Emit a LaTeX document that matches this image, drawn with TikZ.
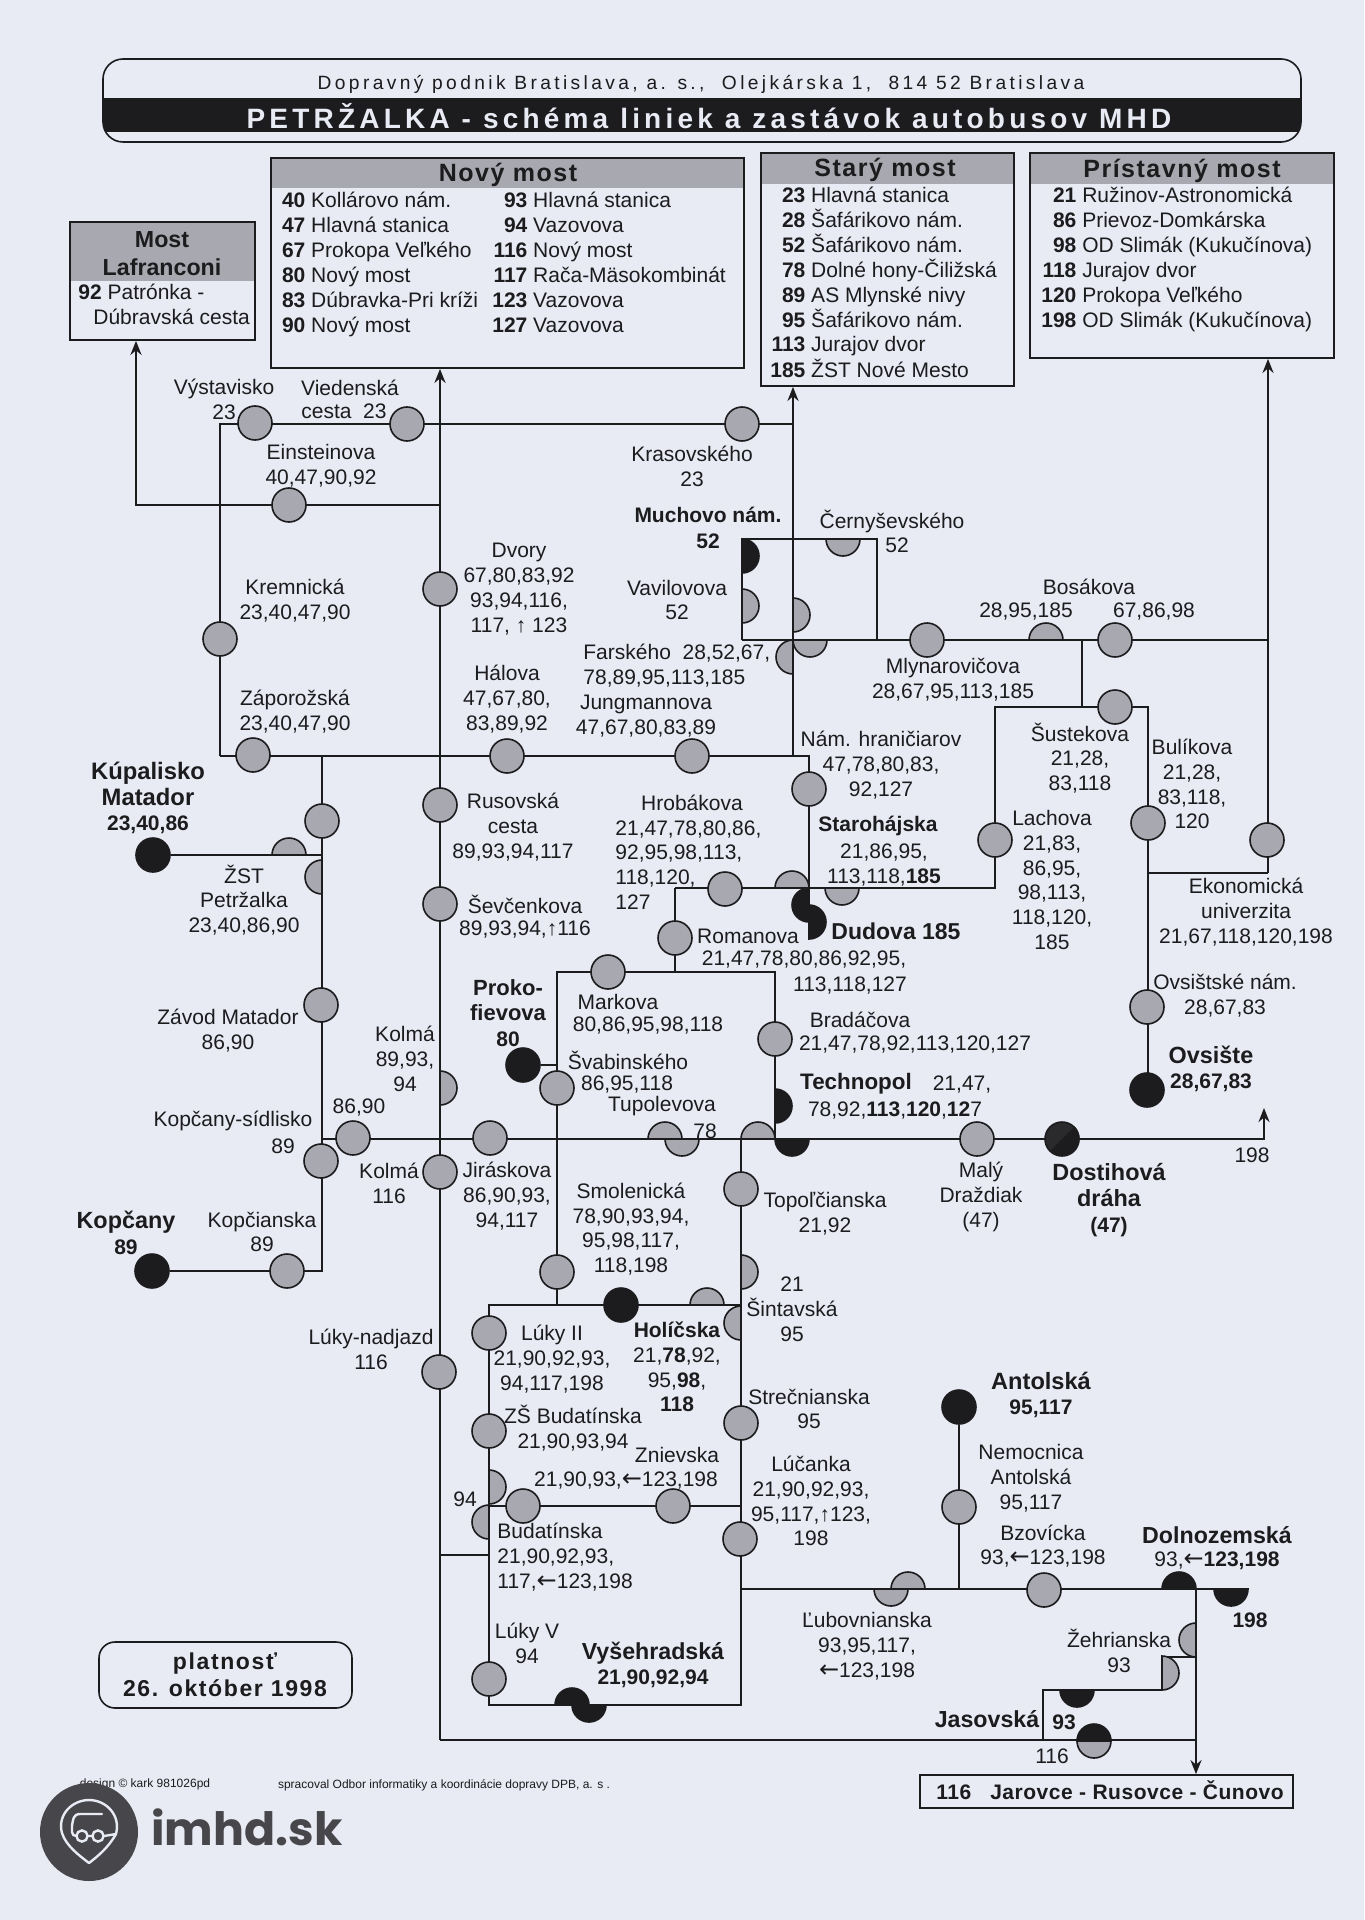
\documentclass[tikz,border=0pt]{standalone}
\usepackage{fontspec}
\setmainfont{Liberation Sans}
\newfontfamily\arrf{DejaVu Sans}
\newfontfamily\popf{Poppins}
\usetikzlibrary{arrows.meta,fit,calc}
\pgfdeclarelayer{paper}\pgfdeclarelayer{lines}
\pgfsetlayers{paper,lines,main}
\definecolor{paperc}{HTML}{E8EAF4}
\definecolor{ink}{HTML}{1C1C1E}
\definecolor{dotg}{HTML}{A8A9B0}
\definecolor{logoc}{HTML}{47474B}
\tikzset{
 ln/.style={draw=ink,line width=1.4pt,line join=miter},
 arr/.style={ln,-{Stealth[length=7pt,width=5.5pt]}},
 stn/.style={circle,draw=ink,line width=.8pt,fill=dotg,minimum size=17pt,inner sep=0pt},
 stb/.style={stn,fill=ink},
 lab/.style={align=center,inner sep=0pt,text=ink,font=\fontsize{10.5}{12.4}\selectfont},
 labl/.style={lab,align=left},
 blab/.style={lab,font=\fontsize{10.5}{12.8}\selectfont\bfseries},
 head/.style={lab,font=\fontsize{12.5}{14}\selectfont\bfseries\addfontfeature{LetterSpace=6}},
 headb/.style={lab,font=\fontsize{11.6}{14}\selectfont\bfseries},
 rowl/.style={lab,anchor=west,text height=7.6pt,text depth=2.4pt},
 frame/.style={draw=ink,line width=.9pt,inner sep=0pt},
 tiny/.style={inner sep=0pt,text=ink,font=\fontsize{6}{7}\selectfont}
}
\newcounter{lbl}
\newcommand{\tx}[4][lab]{\stepcounter{lbl}\node[#1] (t\thelbl) at (#2,#3) {#4};}
\newcommand{\stg}[3]{\node[stn] (#1) at (#2,#3) {};}
\newcommand{\stk}[3]{\node[stb] (#1) at (#2,#3) {};}
\newcommand{\hst}[5]{\coordinate (#1) at (#2,#3);
 \draw[draw=ink,line width=.8pt,fill=#5] (#1) ++(#4:8.5pt) arc[start angle=#4,delta angle=180,radius=8.5pt] -- cycle;}
\newcommand{\bxx}[6]{\fill[dotg] (#2,#3) rectangle (#4,#6);
 \node[frame,fit={(#2,#3)(#4,#5)}] (#1) {};}
\newcommand{\rowsA}[4]{\tx[rowl]{#1}{#2}{\makebox[18pt][r]{\textbf{#3}} #4}}
\newcommand{\bn}[2][11.7]{{\fontsize{#1}{12.8}\selectfont #2}}
\newcommand{\lar}{{\arrf\fontsize{12}{12}\selectfont ←}}
\begin{document}
\begin{tikzpicture}[x=.5pt,y=-.5pt]
\useasboundingbox (0,0) rectangle (1364,1920);
\begin{pgfonlayer}{paper}
\fill[paperc] (0,0) rectangle (1364,1920);
\end{pgfonlayer}

% ---------- header
\begin{scope}
\clip[rounded corners=10pt] (103,59) rectangle (1301,142);
\fill[ink] (103,98) rectangle (1301,132);
\end{scope}
\node[draw=ink,line width=.8pt,rounded corners=10pt,fit={(103,59)(1301,142)},inner sep=0pt] (hdr) {};
\tx[lab,font=\fontsize{9.6}{12}\selectfont\addfontfeature{LetterSpace=17.6}]{701}{84}{Dopravný podnik Bratislava, a. s.,\ \ Olejkárska 1,\ \ 814 52 Bratislava}
\tx[lab,text=paperc,font=\fontsize{14}{16}\selectfont\bfseries\addfontfeature{LetterSpace=15}]{709}{116}{PETRŽALKA - schéma liniek a zastávok autobusov MHD}

% ---------- destination boxes
\bxx{nov}{271}{158}{744}{368}{188}
\bxx{sta}{761}{153}{1014}{386}{184}
\bxx{pri}{1030}{153}{1334}{358}{184}
\bxx{lafr}{70}{222}{255}{340}{281}
\tx[head]{508}{175}{Nový most}
\tx[head]{885}{170}{Starý most}
\tx[head]{1182}{171}{Prístavný most}
\tx[headb]{162}{254}{Most\\Lafranconi}
\tx[rowl]{78}{294}{\textbf{92} Patrónka -}
\tx[rowl]{93}{319}{Dúbravská cesta}
\rowsA{269}{202}{40}{Kollárovo nám.}
\rowsA{269}{227}{47}{Hlavná stanica}
\rowsA{269}{252}{67}{Prokopa Veľkého}
\rowsA{269}{277}{80}{Nový most}
\rowsA{269}{302}{83}{Dúbravka-Pri kríži}
\rowsA{269}{327}{90}{Nový most}
\rowsA{491}{202}{93}{Hlavná stanica}
\rowsA{491}{227}{94}{Vazovova}
\rowsA{491}{252}{116}{Nový most}
\rowsA{491}{277}{117}{Rača-Mäsokombinát}
\rowsA{491}{302}{123}{Vazovova}
\rowsA{491}{327}{127}{Vazovova}
\rowsA{769}{197}{23}{Hlavná stanica}
\rowsA{769}{222}{28}{Šafárikovo nám.}
\rowsA{769}{247}{52}{Šafárikovo nám.}
\rowsA{769}{272}{78}{Dolné hony-Čiližská}
\rowsA{769}{297}{89}{AS Mlynské nivy}
\rowsA{769}{322}{95}{Šafárikovo nám.}
\rowsA{769}{346}{113}{Jurajov dvor}
\rowsA{769}{372}{185}{ŽST Nové Mesto}
\rowsA{1040}{197}{21}{Ružinov-Astronomická}
\rowsA{1040}{222}{86}{Prievoz-Domkárska}
\rowsA{1040}{247}{98}{OD Slimák (Kukučínova)}
\rowsA{1040}{272}{118}{Jurajov dvor}
\rowsA{1040}{297}{120}{Prokopa Veľkého}
\rowsA{1040}{322}{198}{OD Slimák (Kukučínova)}

% ---------- junction points
\coordinate (jLaf) at (136,505);
\coordinate (jEin) at (440,505);
\coordinate (jTL) at (220,424);
\coordinate (jTR) at (793,424);
\coordinate (jBL) at (220,756);
\coordinate (jZap) at (322,756);
\coordinate (jMid) at (793,756);
\coordinate (jHr) at (809,756);
\coordinate (jHb) at (809,888);
\coordinate (jRom) at (675,888);
\coordinate (jLa) at (995,888);
\coordinate (jLt) at (995,707);
\coordinate (jBu) at (1148,707);
\coordinate (jOv) at (1148,1090);
\coordinate (jMa) at (675,972);
\coordinate (jPl) at (557,972);
\coordinate (jPr) at (775,972);
\coordinate (jPb) at (775,1139);
\coordinate (jSb) at (557,1305);
\coordinate (jSm) at (557,1065);
\coordinate (jMy) at (1082,640);
\coordinate (jSu) at (1082,707);
\coordinate (jQ1) at (742,539);
\coordinate (jQ2) at (877,539);
\coordinate (jQ3) at (877,640);
\coordinate (jQ4) at (742,640);
\coordinate (jPri) at (1268,640);
\coordinate (jEk) at (1268,873);
\coordinate (jEl) at (1148,873);
\coordinate (jKu) at (322,855);
\coordinate (jKb) at (322,1271);
\coordinate (jLh) at (322,1139);
\coordinate (jE198) at (1264,1139);
\coordinate (jUp) at (1264,1108);
\coordinate (jT) at (741,1139);
\coordinate (jBr) at (741,1705);
\coordinate (jBl) at (489,1705);
\coordinate (jTl) at (489,1305);
\coordinate (jTr) at (741,1305);
\coordinate (jZl) at (489,1506);
\coordinate (jZr) at (741,1506);
\coordinate (jNad) at (440,1555);
\coordinate (jNa2) at (489,1555);
\coordinate (jLu) at (741,1589);
\coordinate (jAn) at (959,1589);
\coordinate (jDo) at (1196,1589);
\coordinate (jEnd) at (1248,1589);
\coordinate (jZe) at (1196,1657);
\coordinate (jZ2) at (1162,1657);
\coordinate (jZ3) at (1162,1690);
\coordinate (jJa) at (1043,1690);
\coordinate (jJb) at (1043,1740);
\coordinate (jMb) at (440,1740);
\coordinate (jRb) at (1196,1740);

% ---------- half stations
\hst{hMuch}{742}{556}{-90}{ink}
\hst{hVav}{742}{606}{-90}{dotg}
\hst{hCast}{793}{615}{-90}{dotg}
\hst{hCern}{843}{539}{180}{dotg}
\hst{hLow}{810}{640}{180}{dotg}
\hst{hFar}{793}{657}{90}{dotg}
\hst{hBos}{1046}{640}{0}{dotg}
\hst{hHr}{792}{888}{0}{dotg}
\hst{hSta}{842}{888}{180}{dotg}
\hst{hDu1}{809}{905}{90}{ink}
\hst{hDu2}{809}{922}{-90}{ink}
\hst{hZst}{289}{855}{0}{dotg}
\hst{hZs2}{322}{877}{90}{dotg}
\hst{hKol}{440}{1088}{-90}{dotg}
\hst{hTu1}{665}{1139}{0}{dotg}
\hst{hTu2}{682}{1139}{180}{dotg}
\hst{hTe0}{758}{1139}{0}{dotg}
\hst{hTe1}{775}{1106}{-90}{ink}
\hst{hTe2}{792}{1139}{180}{ink}
\hst{hSi1}{741}{1272}{-90}{dotg}
\hst{hSi2}{741}{1323}{90}{dotg}
\hst{hHo}{707}{1305}{0}{dotg}
\hst{hBu1}{489}{1487}{-90}{dotg}
\hst{hBu2}{489}{1522}{90}{dotg}
\hst{hVy1}{572}{1705}{0}{ink}
\hst{hVy2}{589}{1705}{180}{ink}
\hst{hLub1}{908}{1589}{0}{dotg}
\hst{hLub2}{891}{1589}{180}{dotg}
\hst{hDol}{1179}{1589}{0}{ink}
\hst{hD198}{1231}{1589}{180}{ink}
\hst{hZe1}{1196}{1640}{90}{dotg}
\hst{hZe2}{1162}{1673}{-90}{dotg}
\hst{hJas}{1077}{1690}{180}{ink}
\hst{hJ2}{1094}{1741}{0}{ink}
\hst{hJ3}{1094}{1741}{180}{dotg}

% ---------- full stations
\stg{sVys}{255}{423}
\stg{sVie}{407}{424}
\stg{sKra}{742}{424}
\stg{sEin}{289}{505}
\stg{sDvo}{440}{589}
\stg{sKre}{220}{639}
\stg{sZap}{253}{755}
\stg{sHal}{507}{756}
\stg{sJun}{692}{756}
\stg{sHra}{809}{789}
\stg{sHro}{725}{889}
\stg{sRom}{675}{938}
\stg{sMar}{608}{972}
\stg{sBra}{775}{1039}
\stg{sMly}{927}{640}
\stg{sBo2}{1115}{640}
\stg{sSus}{1115}{707}
\stg{sLac}{995}{840}
\stg{sBul}{1148}{823}
\stg{sEko}{1267}{840}
\stg{sOvn}{1147}{1007}
\stk{sOvs}{1147}{1090}
\stg{sPet}{322}{821}
\stg{sMat}{321}{1005}
\stg{sKsd}{321}{1161}
\stg{sK86}{353}{1138}
\stg{sKop}{287}{1271}
\stk{sKpc}{152}{1271}
\stk{sKup}{153}{855}
\stg{sRus}{440}{805}
\stg{sSev}{440}{904}
\stg{sKo1}{440}{1172}
\stg{sJir}{490}{1138}
\stg{sNad}{439}{1372}
\stk{sPro}{523}{1065}
\stg{sSva}{557}{1088}
\stg{sSmo}{557}{1272}
\stk{sHol}{621}{1305}
\stg{sMal}{977}{1139}
\node[stb,fill=black!75!dotg] (sDos) at (1062,1139) {};
\fill[ink] (sDos.225) -- (sDos.45) arc[start angle=45,delta angle=-180,radius=8.5pt] -- cycle;
\stg{sTop}{741}{1189}
\stg{sLu2}{489}{1333}
\stg{sZsb}{489}{1431}
\stg{sBud}{523}{1506}
\stg{sZni}{673}{1506}
\stg{sStr}{741}{1423}
\stg{sLuc}{740}{1539}
\stg{sLuv}{489}{1679}
\stk{sAnt}{959}{1407}
\stg{sNem}{959}{1507}
\stg{sBzo}{1044}{1590}

% ---------- bottom box
\node[frame,fit={(920,1775)(1293,1808)}] (dest) {};
\tx[lab,font=\fontsize{10.5}{12}\selectfont\bfseries\addfontfeature{LetterSpace=2.5}]{1110}{1790}{116\ \ \ Jarovce - Rusovce - Čunovo}

% ---------- lines (below the stations)
\begin{pgfonlayer}{lines}
\draw[arr] (jEin) -- (jLaf) -- (jLaf |- lafr.south);
\draw[arr] (jMb) -- (jMb |- nov.south);
\draw[arr] (jMid) -- (jMid |- sta.south);
\draw[ln] (jBL) -- (jTL) -- (jTR);
\draw[ln] (jBL) -- (jZap) -- (jMid) -- (jHr) -- (jHb);
\draw[ln] (jRom) -- (jHb) -- (jLa) -- (jLt) -- (jBu) -- (jOv);
\draw[ln] (jRom) -- (jMa);
\draw[ln] (jSb) -- (jPl) -- (jMa) -- (jPr) -- (jPb);
\draw[ln] (sPro) -- (jSm);
\draw[ln] (jMy) -- (jSu);
\draw[ln] (jQ4) -- (jQ1) -- (jQ2) -- (jQ3);
\draw[ln] (jQ4) -- (jPri);
\draw[arr] (jEk) -- (jEk |- pri.south);
\draw[ln] (jEl) -- (jEk);
\draw[ln] (jZap) -- (jKb) -- (sKpc);
\draw[ln] (sKup) -- (jKu);
\draw[arr] (jLh) -- (jE198) -- (jUp);
\draw[ln] (jT) -- (jBr) -- (jBl) -- (jTl) -- (jTr);
\draw[ln] (jZl) -- (jZr);
\draw[ln] (jNad) -- (jNa2);
\draw[ln] (jLu) -- (jEnd);
\draw[ln] (sAnt) -- (jAn);
\draw[arr] (jDo) -- (jDo |- dest.north);
\draw[ln] (jZe) -- (jZ2) -- (jZ3) -- (jJa) -- (jJb);
\draw[ln] (jMb) -- (jRb);
\end{pgfonlayer}

% ---------- validity box
\node[draw=ink,line width=.8pt,rounded corners=8pt,fit={(99,1642)(352,1708)},inner sep=0pt] (plat) {};
\tx[lab,font=\fontsize{11.5}{13.5}\selectfont\bfseries\addfontfeature{LetterSpace=7}]{225}{1675}{platnosť\\26. október 1998}

% ---------- labels
\tx{224}{399}{Výstavisko\\23}
\tx{350}{388}{Viedenská}
\tx{344}{411}{cesta\ \ 23}
\tx{321}{466}{Einsteinova\\40,47,90,92}
\tx{692}{466}{Krasovského\\23}
\tx[blab]{708}{528}{Muchovo nám.\\52}
\tx{892}{521}{Černyševského}
\tx{897}{545}{52}
\tx{677}{600}{Vavilovova\\52}
\tx{1089}{587}{Bosákova}
\tx{1026}{612}{28,95,185}
\tx{1154}{612}{67,86,98}
\tx[labl,anchor=west]{583}{666}{Farského\ \ 28,52,67,\\78,89,95,113,185}
\tx{646}{716}{Jungmannova\\47,67,80,83,89}
\tx{953}{680}{Mlynarovičova\\28,67,95,113,185}
\tx{1080}{758}{Šustekova\\21,28,\\83,118}
\tx{1192}{784}{Bulíkova\\21,28,\\83,118,\\120}
\tx{881}{765}{Nám. hraničiarov\\47,78,80,83,\\92,127}
\tx{1052}{880}{Lachova\\21,83,\\86,95,\\98,113,\\118,120,\\185}
\tx{692}{803}{Hrobákova}
\tx[labl,anchor=west]{615}{865}{21,47,78,80,86,\\92,95,98,113,\\118,120,\\127}
\tx[blab]{878}{826}{Starohájska}
\tx{884}{865}{21,86,95,\\113,118,\textbf{185}}
\tx[blab]{896}{931}{\bn[11.5]{Dudova 185}}
\tx{748}{936}{Romanova}
\tx{804}{960}{21,47,78,80,86,92,95,}
\tx{850}{986}{113,118,127}
\tx{1246}{912}{Ekonomická\\univerzita\\21,67,118,120,198}
\tx{1225}{996}{Ovsištské nám.\\28,67,83}
\tx[blab]{1211}{1069}{\bn{Ovsište}\\28,67,83}
\tx[blab]{856}{1084}{\bn[11.2]{Technopol}}
\tx{962}{1084}{21,47,}
\tx{895}{1110}{78,92,\textbf{113},\textbf{120},\textbf{12}7}
\tx{860}{1020}{Bradáčova}
\tx{915}{1044}{21,47,78,92,113,120,127}
\tx{618}{1002}{Markova}
\tx{648}{1026}{80,86,95,98,118}
\tx{628}{1060}{Švabinského}
\tx{627}{1084}{86,95,118}
\tx{662}{1106}{Tupolevova}
\tx{705}{1131}{78}
\tx{981}{1197}{Malý\\Draždiak\\(47)}
\tx[blab]{1109}{1200}{\bn{Dostihová}\\\bn{dráha}\\(47)}
\tx{1252}{1155}{198}
\tx{825}{1214}{Topoľčianska\\21,92}
\tx{631}{1229}{Smolenická\\78,90,93,94,\\95,98,117,\\118,198}
\tx{792}{1309}{21\\Šintavská\\95}
\tx{677}{1367}{\textbf{Holíčska}\\21,\textbf{78},92,\\95,\textbf{98},\\\textbf{118}}
\tx{552}{1359}{Lúky II\\21,90,92,93,\\94,117,198}
\tx{573}{1428}{ZŠ Budatínska\\21,90,93,94}
\tx{677}{1455}{Znievska}
\tx{626}{1480}{21,90,93,\lar 123,198}
\tx{809}{1409}{Strečnianska\\95}
\tx{811}{1501}{Lúčanka\\21,90,92,93,\\95,117,↑123,\\198}
\tx{465}{1499}{94}
\tx[labl,anchor=west]{497}{1557}{Budatínska\\21,90,92,93,\\117,\lar 123,198}
\tx{527}{1643}{Lúky V\\94}
\tx[blab]{653}{1665}{\bn[11.6]{Vyšehradská}\\21,90,92,94}
\tx{371}{1349}{Lúky-nadjazd\\116}
\tx{867}{1646}{Ľubovnianska\\93,95,117,\\\lar 123,198}
\tx[blab]{1041}{1395}{\bn[11.8]{Antolská}\\95,117}
\tx{1031}{1478}{Nemocnica\\Antolská\\95,117}
\tx{1043}{1546}{Bzovícka\\93,\lar 123,198}
\tx[blab]{1217}{1535}{\bn[11.6]{Dolnozemská}}
\tx{1217}{1561}{93,\lar\textbf{123,198}}
\tx[blab]{1250}{1620}{198}
\tx{1119}{1651}{Žehrianska\\93}
\tx[blab]{987}{1719}{\bn[11.6]{Jasovská}}
\tx[blab]{1064}{1722}{93}
\tx{1052}{1756}{116}
\tx{519}{589}{Dvory\\67,80,83,92\\93,94,116,\\117, ↑ 123}
\tx{295}{601}{Kremnická\\23,40,47,90}
\tx{295}{712}{Záporožská\\23,40,47,90}
\tx{507}{699}{Hálova\\47,67,80,\\83,89,92}
\tx[blab]{148}{798}{\bn[11.9]{Kúpalisko}\\\bn[11.9]{Matador}\\23,40,86}
\tx{244}{900}{ŽST\\Petržalka\\23,40,86,90}
\tx{513}{827}{Rusovská\\cesta\\89,93,94,117}
\tx{525}{904}{Ševčenkova}
\tx{525}{930}{89,93,94,↑116}
\tx[blab]{508}{1013}{\bn[11]{Proko-}\\\bn[11]{fievova}\\80}
\tx{228}{1031}{Závod Matador\\86,90}
\tx{405}{1059}{Kolmá\\89,93,\\94}
\tx{359}{1107}{86,90}
\tx{233}{1121}{Kopčany-sídlisko}
\tx{283}{1146}{89}
\tx{389}{1183}{Kolmá\\116}
\tx{507}{1196}{Jiráskova\\86,90,93,\\94,117}
\tx[blab]{126}{1233}{\bn{Kopčany}\\89}
\tx{262}{1232}{Kopčianska\\89}

% ---------- small print
\tx[tiny]{145}{1784}{design © kark 981026pd}
\tx[tiny]{444}{1785}{spracoval Odbor informatiky a koordinácie dopravy DPB, a. s .}

% ---------- logo
\node[circle,fill=logoc,minimum size=49pt,inner sep=0pt] (lgo) at (89,1832) {};
\draw[paperc,line width=1.2pt,line cap=round,line join=round]
 (102,1814) -- (80,1814) .. controls (73,1814) and (73,1820) .. (72,1826) -- (72,1832) .. controls (72,1835) and (74,1836) .. (77,1836);
\draw[paperc,line width=1.2pt,line cap=round,line join=round]
 (88,1836) -- (92,1836) (104,1836) -- (116,1834) .. controls (121,1815) and (106,1800) .. (89,1800) .. controls (72,1800) and (57,1815) .. (62,1833) .. controls (66,1846) and (80,1856) .. (89,1863) .. controls (98,1856) and (108,1848) .. (116,1834);
\draw[paperc,line width=1.2pt] (82,1836) circle[radius=2.8pt] (98,1836) circle[radius=2.8pt];
\tx[lab,text=logoc,anchor=west]{151}{1827}{\resizebox{95.5pt}{!}{\popf\bfseries imhd.sk}}
\end{tikzpicture}
\end{document}
